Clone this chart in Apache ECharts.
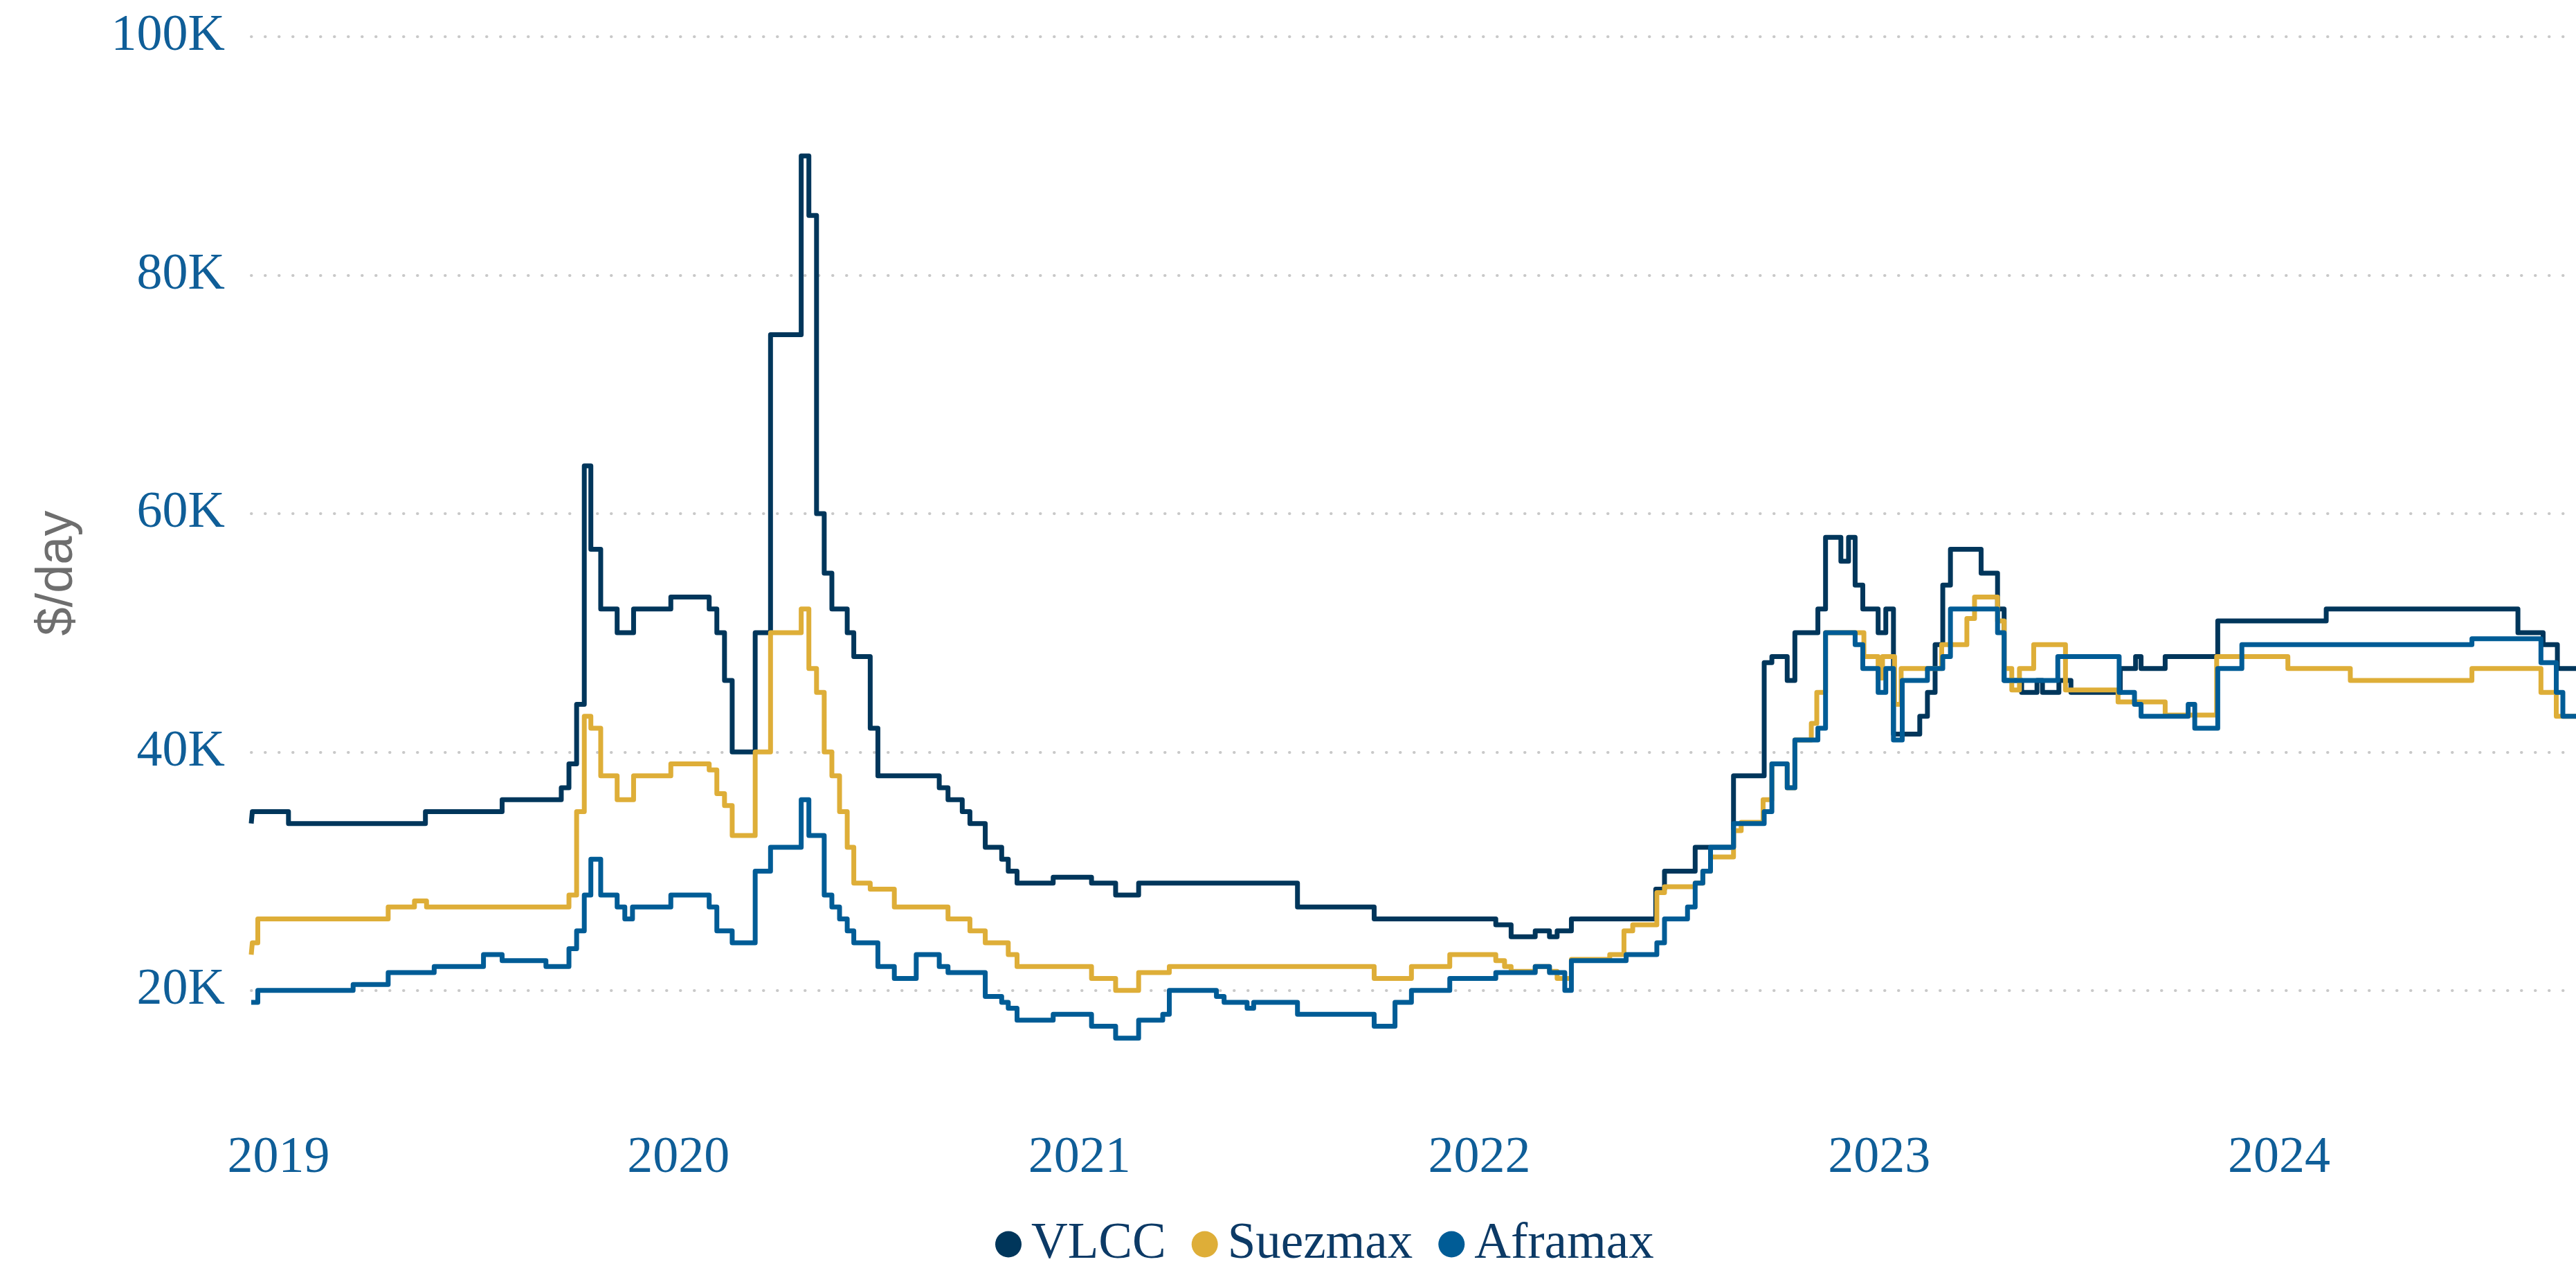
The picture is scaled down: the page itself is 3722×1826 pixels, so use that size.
<!DOCTYPE html>
<html>
<head>
<meta charset="utf-8">
<title>Tanker earnings</title>
<script src="https://cdn.jsdelivr.net/npm/echarts@6/dist/echarts.min.js"></script>
<style>
  html, body { margin: 0; padding: 0; background: #ffffff; }
  #chart { width: 3722px; height: 1826px; }
</style>
</head>
<body>
<div id="chart"></div>
<script>
// Weekly time-charter equivalent earnings ($/day); each entry marks a change in the assessed rate.
const seriesNames = ['VLCC', 'Suezmax', 'Aframax'];

const vlccDates = [
  '2018-12-07','2018-12-08','2019-01-10','2019-05-15','2019-07-24','2019-09-16','2019-09-23','2019-09-30',
  '2019-10-07','2019-10-13','2019-10-22','2019-11-06','2019-11-21','2019-12-25','2020-01-29','2020-02-05',
  '2020-02-12','2020-02-19','2020-03-11','2020-03-25','2020-04-22','2020-04-29','2020-05-06','2020-05-13',
  '2020-05-20','2020-06-03','2020-06-09','2020-06-24','2020-07-01','2020-08-26','2020-09-03','2020-09-16',
  '2020-09-23','2020-10-07','2020-10-22','2020-10-28','2020-11-05','2020-12-08','2021-01-12','2021-02-03',
  '2021-02-24','2021-07-19','2021-09-27','2022-01-16','2022-01-30','2022-02-21','2022-03-06','2022-03-13',
  '2022-03-26','2022-06-11','2022-06-19','2022-07-17','2022-08-21','2022-09-18','2022-09-25','2022-10-09',
  '2022-10-16','2022-11-06','2022-11-13','2022-11-27','2022-12-04','2022-12-10','2022-12-17','2022-12-31',
  '2023-01-07','2023-01-14','2023-02-07','2023-02-14','2023-02-21','2023-02-28','2023-03-07','2023-04-04',
  '2023-04-19','2023-04-25','2023-05-11','2023-05-25','2023-05-30','2023-06-14','2023-06-25','2023-08-09',
  '2023-08-23','2023-08-28','2023-09-19','2023-11-06','2024-02-13','2024-08-06','2024-08-29','2024-09-11',
  '2024-09-28'
];
const vlccValues = [
  34000,35000,34000,35000,36000,37000,39000,44000,
  64000,57000,52000,50000,52000,53000,52000,50000,
  46000,40000,50000,75000,90000,85000,60000,55000,
  52000,50000,48000,42000,38000,37000,36000,35000,
  34000,32000,31000,30000,29000,29500,29000,28000,
  29000,27000,26000,25500,24500,25000,24500,25000,
  26000,28500,30000,32000,38000,47500,48000,46000,
  50000,52000,58000,56000,58000,54000,52000,50000,
  52000,41500,43000,45000,49000,54000,57000,55000,
  52000,46000,45000,46000,45000,46000,45000,47000,
  48000,47000,48000,51000,52000,50000,49000,47000,
  47000
];

const suezmaxDates = [
  '2018-12-07','2018-12-08','2018-12-13','2019-04-11','2019-05-05','2019-05-16','2019-09-23','2019-09-30',
  '2019-10-07','2019-10-13','2019-10-22','2019-11-06','2019-11-21','2019-12-25','2020-01-29','2020-02-05',
  '2020-02-12','2020-02-19','2020-03-11','2020-03-25','2020-04-22','2020-04-29','2020-05-06','2020-05-13',
  '2020-05-20','2020-05-27','2020-06-03','2020-06-09','2020-06-24','2020-07-16','2020-09-03','2020-09-23',
  '2020-10-07','2020-10-28','2020-11-05','2021-01-12','2021-02-03','2021-02-24','2021-03-24','2021-09-27',
  '2021-10-31','2021-12-05','2022-01-16','2022-01-24','2022-01-30','2022-02-21','2022-03-06','2022-03-13',
  '2022-03-26','2022-04-30','2022-05-13','2022-05-21','2022-06-12','2022-06-19','2022-07-17','2022-07-24',
  '2022-07-31','2022-08-21','2022-08-28','2022-09-17','2022-09-25','2022-10-09','2022-10-16','2022-10-31',
  '2022-11-05','2022-11-13','2022-12-18','2022-12-31','2023-01-04','2023-01-15','2023-01-21','2023-02-27',
  '2023-03-22','2023-03-29','2023-04-19','2023-04-25','2023-05-02','2023-05-09','2023-05-22','2023-06-20',
  '2023-08-07','2023-09-19','2023-11-05','2024-01-09','2024-03-06','2024-06-25','2024-08-27','2024-09-10',
  '2024-09-28'
];
const suezmaxValues = [
  23000,24000,26000,27000,27500,27000,28000,35000,
  43000,42000,38000,36000,38000,39000,38500,36500,
  35500,33000,40000,50000,52000,47000,45000,40000,
  38000,35000,32000,29000,28500,27000,26000,25000,
  24000,23000,22000,21000,20000,21500,22000,21000,
  22000,23000,22500,22000,21600,22000,21600,21000,
  22600,23000,25000,25500,28200,28700,29000,30000,
  31200,33400,34100,36000,39000,37000,41000,42400,
  45000,50000,48000,46200,48000,44000,47000,49000,
  51200,53000,51000,47000,45200,47000,49000,45200,
  44200,43100,48000,47000,46000,47000,45000,43000,
  43000
];

const aframaxDates = [
  '2018-12-07','2018-12-13','2019-03-10','2019-04-11','2019-05-23','2019-07-07','2019-07-24','2019-09-02',
  '2019-09-23','2019-09-30','2019-10-07','2019-10-13','2019-10-22','2019-11-06','2019-11-13','2019-11-20',
  '2019-12-25','2020-01-29','2020-02-05','2020-02-19','2020-03-11','2020-03-25','2020-04-22','2020-04-29',
  '2020-05-13','2020-05-20','2020-05-27','2020-06-03','2020-06-09','2020-07-01','2020-07-16','2020-08-05',
  '2020-08-26','2020-09-03','2020-10-07','2020-10-22','2020-10-28','2020-11-05','2020-12-08','2021-01-12',
  '2021-02-03','2021-02-24','2021-03-18','2021-03-24','2021-05-06','2021-05-13','2021-06-03','2021-06-09',
  '2021-07-19','2021-09-27','2021-10-16','2021-10-31','2021-12-05','2022-01-16','2022-02-21','2022-03-06',
  '2022-03-20','2022-03-26','2022-05-15','2022-06-12','2022-06-19','2022-07-10','2022-07-17','2022-07-24',
  '2022-07-31','2022-08-21','2022-09-18','2022-09-25','2022-10-09','2022-10-16','2022-11-06','2022-11-13',
  '2022-12-10','2022-12-17','2022-12-31','2023-01-07','2023-01-14','2023-01-22','2023-02-14','2023-02-28',
  '2023-03-07','2023-04-19','2023-04-25','2023-06-13','2023-08-08','2023-08-22','2023-08-28','2023-10-10',
  '2023-10-16','2023-11-06','2023-11-28','2024-06-25','2024-08-27','2024-09-10','2024-09-16','2024-09-28'
];
const aframaxValues = [
  19000,20000,20500,21500,22000,23000,22500,22000,
  23500,25000,28000,31000,28000,27000,26000,27000,
  28000,27000,25000,24000,30000,32000,36000,33000,
  28000,27000,26000,25000,24000,22000,21000,23000,
  22000,21500,19500,19000,18500,17500,18000,17000,
  16000,17500,18000,20000,19500,19000,18500,19000,
  18000,17000,19000,20000,21000,21500,22000,21500,
  20000,22500,23000,24000,26000,27000,29000,30000,
  32000,34000,35000,39000,37000,41000,42000,50000,
  49000,47000,45000,47000,41000,46000,47000,48000,
  52000,50000,46000,48000,45000,44000,43000,44000,
  42000,47000,49000,49500,47500,45000,43000,43000
];

// Value-axis ticks: labelled every 20K, range 10K–100K
const yMin = 10000;
const yMax = 100000;
const yTickStep = 10000;
const yLabelStep = 20000;

const xStart = '2018-12-07';
const xEnd = '2024-09-28';

const colors = ['#00365b', '#deae38', '#005c96'];

function pairs(dates, values) {
  return dates.map((d, i) => [d, values[i]]);
}

const chart = echarts.init(document.getElementById('chart'), null, { renderer: 'canvas' });

const serif = "'Liberation Serif', 'Times New Roman', serif";

const option = {
  animation: false,
  backgroundColor: '#ffffff',
  color: colors,
  grid: { left: 363, right: 0, top: 53, bottom: 223, containLabel: false },
  legend: {
    data: seriesNames,
    left: 1433,
    top: 1756,
    icon: 'circle',
    itemWidth: 38,
    itemHeight: 38,
    itemGap: 37,
    textStyle: { fontFamily: serif, fontSize: 73, color: '#0c3a66', padding: [0, 0, 0, 9] }
  },
  xAxis: {
    type: 'time',
    min: xStart,
    max: xEnd,
    axisLine: { show: false },
    axisTick: { show: false },
    splitLine: { show: false },
    axisLabel: {
      fontFamily: serif,
      fontSize: 74,
      color: '#0f5e98',
      margin: 34,
      showMinLabel: false,
      showMaxLabel: false,
      formatter: function (value) {
        const d = new Date(value);
        return (d.getMonth() === 0 && d.getDate() === 1) ? String(d.getFullYear()) : '';
      }
    }
  },
  yAxis: {
    type: 'value',
    min: yMin,
    max: yMax,
    interval: yTickStep,
    name: '$/day',
    nameLocation: 'middle',
    nameRotate: 90,
    nameGap: 242,
    nameTextStyle: { fontFamily: "'Liberation Sans', Arial, sans-serif", fontSize: 74, color: '#6e6e6e' },
    axisLine: { show: false },
    axisTick: { show: false },
    axisLabel: {
      fontFamily: serif,
      fontSize: 74,
      color: '#0f5e98',
      margin: 38,
      formatter: function (v) {
        return (v % yLabelStep === 0) ? (v / 1000) + 'K' : '';
      }
    },
    splitLine: {
      show: true,
      lineStyle: {
        // alternate: hide odd 10K lines, dot the 20K multiples
        color: ['rgba(0,0,0,0)', '#c8c8c8'],
        width: 4,
        type: [0.5, 19.5],
        cap: 'round'
      }
    }
  },
  series: [
    { name: 'VLCC', data: pairs(vlccDates, vlccValues) },
    { name: 'Suezmax', data: pairs(suezmaxDates, suezmaxValues) },
    { name: 'Aframax', data: pairs(aframaxDates, aframaxValues) }
  ].map((s, i) => ({
    name: s.name,
    type: 'line',
    step: 'end',
    data: s.data,
    showSymbol: false,
    symbol: 'none',
    z: 2 + i,
    lineStyle: { width: 7, color: colors[i], join: 'round', cap: 'butt' },
    itemStyle: { color: colors[i] },
    emphasis: { disabled: true }
  }))
};

chart.setOption(option);
</script>
</body>
</html>
